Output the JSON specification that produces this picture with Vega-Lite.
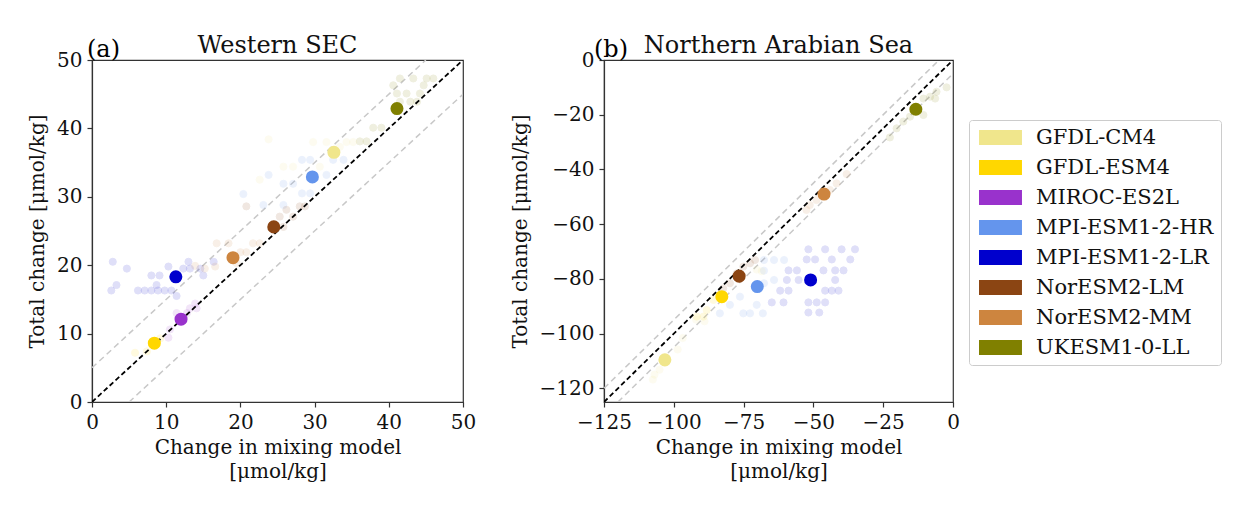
{
  "$schema": "https://vega.github.io/schema/vega-lite/v6.json",
  "padding": {"left": 26, "top": 33, "right": 5, "bottom": 5},
  "spacing": 141,
  "bounds": "flush",
  "background": "white",
  "config": {
    "font": "DejaVu Serif",
    "view": {"stroke": "#333", "strokeWidth": 1.2},
    "axis": {
      "labelFont": "DejaVu Serif", "titleFont": "DejaVu Serif",
      "labelFontSize": 20, "titleFontSize": 20, "titleFontWeight": "normal",
      "labelColor": "#111", "titleColor": "#111",
      "domainColor": "#333", "domainWidth": 1.2,
      "tickColor": "#333", "tickWidth": 1.2, "tickSize": 5, "labelPadding": 5,
      "grid": false, "labelFlush": false, "labelOverlap": false
    },
    "title": {"font": "DejaVu Serif", "fontSize": 24, "fontWeight": "normal", "color": "#111", "offset": -20},
    "legend": {"orient": "none", "legendX": 877, "legendY": 60}
  },
  "datasets": {
    "means": [
      {"panel": "a", "model": "GFDL-CM4", "x": 32.6, "y": 36.5},
      {"panel": "a", "model": "GFDL-ESM4", "x": 8.4, "y": 8.6},
      {"panel": "a", "model": "MIROC-ES2L", "x": 12.0, "y": 12.1},
      {"panel": "a", "model": "MPI-ESM1-2-HR", "x": 29.7, "y": 32.9},
      {"panel": "a", "model": "MPI-ESM1-2-LR", "x": 11.3, "y": 18.3},
      {"panel": "a", "model": "NorESM2-LM", "x": 24.5, "y": 25.6},
      {"panel": "a", "model": "NorESM2-MM", "x": 19.0, "y": 21.1},
      {"panel": "a", "model": "UKESM1-0-LL", "x": 41.1, "y": 42.9},
      {"panel": "b", "model": "GFDL-CM4", "x": -103.2, "y": -109.6},
      {"panel": "b", "model": "GFDL-ESM4", "x": -82.8, "y": -86.5},
      {"panel": "b", "model": "MPI-ESM1-2-HR", "x": -70.1, "y": -82.8},
      {"panel": "b", "model": "MPI-ESM1-2-LR", "x": -51.0, "y": -80.4},
      {"panel": "b", "model": "NorESM2-LM", "x": -76.6, "y": -79.0},
      {"panel": "b", "model": "NorESM2-MM", "x": -46.2, "y": -49.0},
      {"panel": "b", "model": "UKESM1-0-LL", "x": -13.3, "y": -18.0}
    ],
    "members": [
      {"panel": "a", "model": "UKESM1-0-LL", "x": 41.5, "y": 47.3},
      {"panel": "a", "model": "UKESM1-0-LL", "x": 43.3, "y": 47.3},
      {"panel": "a", "model": "UKESM1-0-LL", "x": 45.1, "y": 47.3},
      {"panel": "a", "model": "UKESM1-0-LL", "x": 46.0, "y": 47.3},
      {"panel": "a", "model": "UKESM1-0-LL", "x": 40.6, "y": 46.3},
      {"panel": "a", "model": "UKESM1-0-LL", "x": 44.7, "y": 46.3},
      {"panel": "a", "model": "UKESM1-0-LL", "x": 41.1, "y": 45.1},
      {"panel": "a", "model": "UKESM1-0-LL", "x": 42.4, "y": 45.1},
      {"panel": "a", "model": "UKESM1-0-LL", "x": 44.2, "y": 45.1},
      {"panel": "a", "model": "UKESM1-0-LL", "x": 41.5, "y": 43.9},
      {"panel": "a", "model": "UKESM1-0-LL", "x": 42.9, "y": 43.9},
      {"panel": "a", "model": "UKESM1-0-LL", "x": 43.8, "y": 43.9},
      {"panel": "a", "model": "UKESM1-0-LL", "x": 37.9, "y": 40.1},
      {"panel": "a", "model": "UKESM1-0-LL", "x": 39.0, "y": 40.1},
      {"panel": "a", "model": "UKESM1-0-LL", "x": 37.0, "y": 38.1},
      {"panel": "a", "model": "UKESM1-0-LL", "x": 36.1, "y": 38.1},
      {"panel": "a", "model": "GFDL-CM4", "x": 23.8, "y": 38.4},
      {"panel": "a", "model": "GFDL-CM4", "x": 29.8, "y": 38.0},
      {"panel": "a", "model": "GFDL-CM4", "x": 31.6, "y": 38.0},
      {"panel": "a", "model": "GFDL-CM4", "x": 34.3, "y": 38.0},
      {"panel": "a", "model": "GFDL-CM4", "x": 35.2, "y": 38.0},
      {"panel": "a", "model": "GFDL-CM4", "x": 33.4, "y": 37.3},
      {"panel": "a", "model": "GFDL-CM4", "x": 25.8, "y": 34.4},
      {"panel": "a", "model": "GFDL-CM4", "x": 27.1, "y": 34.4},
      {"panel": "a", "model": "GFDL-CM4", "x": 30.7, "y": 34.4},
      {"panel": "a", "model": "GFDL-CM4", "x": 22.6, "y": 32.5},
      {"panel": "a", "model": "GFDL-ESM4", "x": 5.8, "y": 7.2},
      {"panel": "a", "model": "GFDL-ESM4", "x": 7.4, "y": 7.4},
      {"panel": "a", "model": "GFDL-ESM4", "x": 9.2, "y": 9.3},
      {"panel": "a", "model": "MPI-ESM1-2-HR", "x": 28.3, "y": 35.4},
      {"panel": "a", "model": "MPI-ESM1-2-HR", "x": 29.4, "y": 35.4},
      {"panel": "a", "model": "MPI-ESM1-2-HR", "x": 32.5, "y": 35.4},
      {"panel": "a", "model": "MPI-ESM1-2-HR", "x": 33.9, "y": 35.4},
      {"panel": "a", "model": "MPI-ESM1-2-HR", "x": 31.6, "y": 33.2},
      {"panel": "a", "model": "MPI-ESM1-2-HR", "x": 25.8, "y": 31.9},
      {"panel": "a", "model": "MPI-ESM1-2-HR", "x": 27.1, "y": 31.9},
      {"panel": "a", "model": "MPI-ESM1-2-HR", "x": 28.3, "y": 30.5},
      {"panel": "a", "model": "MPI-ESM1-2-HR", "x": 29.4, "y": 30.5},
      {"panel": "a", "model": "MPI-ESM1-2-HR", "x": 23.8, "y": 33.2},
      {"panel": "a", "model": "MPI-ESM1-2-HR", "x": 20.4, "y": 30.4},
      {"panel": "a", "model": "MPI-ESM1-2-HR", "x": 23.1, "y": 28.8},
      {"panel": "a", "model": "MPI-ESM1-2-HR", "x": 25.8, "y": 28.8},
      {"panel": "a", "model": "MPI-ESM1-2-LR", "x": 2.8, "y": 20.5},
      {"panel": "a", "model": "MPI-ESM1-2-LR", "x": 4.7, "y": 19.5},
      {"panel": "a", "model": "MPI-ESM1-2-LR", "x": 3.3, "y": 17.1},
      {"panel": "a", "model": "MPI-ESM1-2-LR", "x": 2.6, "y": 16.3},
      {"panel": "a", "model": "MPI-ESM1-2-LR", "x": 6.2, "y": 16.3},
      {"panel": "a", "model": "MPI-ESM1-2-LR", "x": 7.1, "y": 16.3},
      {"panel": "a", "model": "MPI-ESM1-2-LR", "x": 8.0, "y": 16.3},
      {"panel": "a", "model": "MPI-ESM1-2-LR", "x": 8.9, "y": 16.3},
      {"panel": "a", "model": "MPI-ESM1-2-LR", "x": 9.8, "y": 16.3},
      {"panel": "a", "model": "MPI-ESM1-2-LR", "x": 10.7, "y": 16.3},
      {"panel": "a", "model": "MPI-ESM1-2-LR", "x": 8.0, "y": 18.5},
      {"panel": "a", "model": "MPI-ESM1-2-LR", "x": 9.1, "y": 18.5},
      {"panel": "a", "model": "MPI-ESM1-2-LR", "x": 10.3, "y": 19.8},
      {"panel": "a", "model": "MPI-ESM1-2-LR", "x": 11.4, "y": 15.5},
      {"panel": "a", "model": "MPI-ESM1-2-LR", "x": 12.3, "y": 19.5},
      {"panel": "a", "model": "MPI-ESM1-2-LR", "x": 13.2, "y": 19.5},
      {"panel": "a", "model": "MPI-ESM1-2-LR", "x": 14.6, "y": 19.5},
      {"panel": "a", "model": "MPI-ESM1-2-LR", "x": 13.0, "y": 20.5},
      {"panel": "a", "model": "MPI-ESM1-2-LR", "x": 15.0, "y": 18.5},
      {"panel": "a", "model": "MPI-ESM1-2-LR", "x": 16.4, "y": 20.5},
      {"panel": "a", "model": "MPI-ESM1-2-LR", "x": 8.7, "y": 17.1},
      {"panel": "a", "model": "NorESM2-MM", "x": 13.9, "y": 19.9},
      {"panel": "a", "model": "NorESM2-MM", "x": 15.2, "y": 19.5},
      {"panel": "a", "model": "NorESM2-MM", "x": 16.6, "y": 19.8},
      {"panel": "a", "model": "NorESM2-MM", "x": 16.8, "y": 23.2},
      {"panel": "a", "model": "NorESM2-MM", "x": 18.4, "y": 23.2},
      {"panel": "a", "model": "NorESM2-MM", "x": 20.0, "y": 21.9},
      {"panel": "a", "model": "NorESM2-MM", "x": 20.8, "y": 21.9},
      {"panel": "a", "model": "NorESM2-MM", "x": 21.7, "y": 23.2},
      {"panel": "a", "model": "NorESM2-MM", "x": 22.6, "y": 23.2},
      {"panel": "a", "model": "NorESM2-MM", "x": 19.5, "y": 20.3},
      {"panel": "a", "model": "NorESM2-LM", "x": 25.3, "y": 27.1},
      {"panel": "a", "model": "NorESM2-LM", "x": 27.1, "y": 27.1},
      {"panel": "a", "model": "NorESM2-LM", "x": 28.0, "y": 28.6},
      {"panel": "a", "model": "NorESM2-LM", "x": 28.7, "y": 28.6},
      {"panel": "a", "model": "NorESM2-LM", "x": 26.2, "y": 28.1},
      {"panel": "a", "model": "NorESM2-LM", "x": 25.8, "y": 25.6},
      {"panel": "a", "model": "NorESM2-LM", "x": 20.8, "y": 28.6},
      {"panel": "a", "model": "MIROC-ES2L", "x": 13.9, "y": 14.4},
      {"panel": "a", "model": "MIROC-ES2L", "x": 13.2, "y": 13.7},
      {"panel": "a", "model": "MIROC-ES2L", "x": 12.8, "y": 13.0},
      {"panel": "a", "model": "MIROC-ES2L", "x": 14.1, "y": 13.7},
      {"panel": "a", "model": "MIROC-ES2L", "x": 10.5, "y": 10.6},
      {"panel": "a", "model": "MIROC-ES2L", "x": 10.3, "y": 9.4},
      {"panel": "a", "model": "MIROC-ES2L", "x": 11.4, "y": 13.0},
      {"panel": "b", "model": "UKESM1-0-LL", "x": -2.3, "y": -10.0},
      {"panel": "b", "model": "UKESM1-0-LL", "x": -5.9, "y": -11.6},
      {"panel": "b", "model": "UKESM1-0-LL", "x": -8.2, "y": -13.4},
      {"panel": "b", "model": "UKESM1-0-LL", "x": -10.6, "y": -14.1},
      {"panel": "b", "model": "UKESM1-0-LL", "x": -6.4, "y": -14.1},
      {"panel": "b", "model": "UKESM1-0-LL", "x": -15.4, "y": -20.7},
      {"panel": "b", "model": "UKESM1-0-LL", "x": -17.8, "y": -22.5},
      {"panel": "b", "model": "UKESM1-0-LL", "x": -20.2, "y": -25.0},
      {"panel": "b", "model": "UKESM1-0-LL", "x": -22.6, "y": -28.3},
      {"panel": "b", "model": "UKESM1-0-LL", "x": -10.6, "y": -20.1},
      {"panel": "b", "model": "NorESM2-MM", "x": -38.1, "y": -41.7},
      {"panel": "b", "model": "NorESM2-MM", "x": -41.7, "y": -45.1},
      {"panel": "b", "model": "NorESM2-MM", "x": -44.1, "y": -47.5},
      {"panel": "b", "model": "NorESM2-MM", "x": -48.9, "y": -51.2},
      {"panel": "b", "model": "NorESM2-MM", "x": -51.3, "y": -53.0},
      {"panel": "b", "model": "NorESM2-MM", "x": -52.5, "y": -54.8},
      {"panel": "b", "model": "NorESM2-LM", "x": -70.9, "y": -73.1},
      {"panel": "b", "model": "NorESM2-LM", "x": -72.7, "y": -74.3},
      {"panel": "b", "model": "NorESM2-LM", "x": -75.1, "y": -75.5},
      {"panel": "b", "model": "NorESM2-LM", "x": -77.5, "y": -78.0},
      {"panel": "b", "model": "NorESM2-LM", "x": -79.9, "y": -81.6},
      {"panel": "b", "model": "NorESM2-LM", "x": -82.3, "y": -83.5},
      {"panel": "b", "model": "MPI-ESM1-2-HR", "x": -67.7, "y": -73.1},
      {"panel": "b", "model": "MPI-ESM1-2-HR", "x": -64.1, "y": -73.1},
      {"panel": "b", "model": "MPI-ESM1-2-HR", "x": -60.5, "y": -73.1},
      {"panel": "b", "model": "MPI-ESM1-2-HR", "x": -67.7, "y": -77.0},
      {"panel": "b", "model": "MPI-ESM1-2-HR", "x": -64.1, "y": -80.4},
      {"panel": "b", "model": "MPI-ESM1-2-HR", "x": -76.3, "y": -86.5},
      {"panel": "b", "model": "MPI-ESM1-2-HR", "x": -79.9, "y": -89.5},
      {"panel": "b", "model": "MPI-ESM1-2-HR", "x": -83.5, "y": -92.6},
      {"panel": "b", "model": "MPI-ESM1-2-HR", "x": -75.1, "y": -92.6},
      {"panel": "b", "model": "MPI-ESM1-2-HR", "x": -70.3, "y": -89.5},
      {"panel": "b", "model": "MPI-ESM1-2-HR", "x": -68.1, "y": -92.6},
      {"panel": "b", "model": "MPI-ESM1-2-HR", "x": -72.7, "y": -92.6},
      {"panel": "b", "model": "MPI-ESM1-2-HR", "x": -67.7, "y": -81.6},
      {"panel": "b", "model": "MPI-ESM1-2-LR", "x": -51.8, "y": -69.2},
      {"panel": "b", "model": "MPI-ESM1-2-LR", "x": -45.8, "y": -69.2},
      {"panel": "b", "model": "MPI-ESM1-2-LR", "x": -39.9, "y": -69.2},
      {"panel": "b", "model": "MPI-ESM1-2-LR", "x": -35.1, "y": -69.2},
      {"panel": "b", "model": "MPI-ESM1-2-LR", "x": -52.4, "y": -72.9},
      {"panel": "b", "model": "MPI-ESM1-2-LR", "x": -49.4, "y": -72.9},
      {"panel": "b", "model": "MPI-ESM1-2-LR", "x": -43.4, "y": -72.9},
      {"panel": "b", "model": "MPI-ESM1-2-LR", "x": -36.8, "y": -72.9},
      {"panel": "b", "model": "MPI-ESM1-2-LR", "x": -58.9, "y": -76.9},
      {"panel": "b", "model": "MPI-ESM1-2-LR", "x": -55.9, "y": -76.9},
      {"panel": "b", "model": "MPI-ESM1-2-LR", "x": -46.4, "y": -76.9},
      {"panel": "b", "model": "MPI-ESM1-2-LR", "x": -42.2, "y": -76.9},
      {"panel": "b", "model": "MPI-ESM1-2-LR", "x": -39.2, "y": -76.9},
      {"panel": "b", "model": "MPI-ESM1-2-LR", "x": -59.5, "y": -80.4},
      {"panel": "b", "model": "MPI-ESM1-2-LR", "x": -55.3, "y": -80.4},
      {"panel": "b", "model": "MPI-ESM1-2-LR", "x": -42.2, "y": -80.4},
      {"panel": "b", "model": "MPI-ESM1-2-LR", "x": -61.9, "y": -84.3},
      {"panel": "b", "model": "MPI-ESM1-2-LR", "x": -58.9, "y": -84.3},
      {"panel": "b", "model": "MPI-ESM1-2-LR", "x": -45.8, "y": -84.3},
      {"panel": "b", "model": "MPI-ESM1-2-LR", "x": -43.4, "y": -84.3},
      {"panel": "b", "model": "MPI-ESM1-2-LR", "x": -41.0, "y": -84.3},
      {"panel": "b", "model": "MPI-ESM1-2-LR", "x": -60.7, "y": -88.6},
      {"panel": "b", "model": "MPI-ESM1-2-LR", "x": -51.8, "y": -88.6},
      {"panel": "b", "model": "MPI-ESM1-2-LR", "x": -48.8, "y": -88.6},
      {"panel": "b", "model": "MPI-ESM1-2-LR", "x": -45.8, "y": -88.6},
      {"panel": "b", "model": "MPI-ESM1-2-LR", "x": -51.8, "y": -92.3},
      {"panel": "b", "model": "MPI-ESM1-2-LR", "x": -47.9, "y": -92.3},
      {"panel": "b", "model": "MPI-ESM1-2-LR", "x": -64.9, "y": -88.6},
      {"panel": "b", "model": "GFDL-ESM4", "x": -85.8, "y": -87.7},
      {"panel": "b", "model": "GFDL-ESM4", "x": -88.2, "y": -91.4},
      {"panel": "b", "model": "GFDL-ESM4", "x": -91.8, "y": -93.8},
      {"panel": "b", "model": "GFDL-ESM4", "x": -89.4, "y": -93.8},
      {"panel": "b", "model": "GFDL-CM4", "x": -92.0, "y": -94.9},
      {"panel": "b", "model": "GFDL-CM4", "x": -89.0, "y": -95.5},
      {"panel": "b", "model": "GFDL-CM4", "x": -96.8, "y": -101.6},
      {"panel": "b", "model": "GFDL-CM4", "x": -98.6, "y": -105.8},
      {"panel": "b", "model": "GFDL-CM4", "x": -105.1, "y": -113.2},
      {"panel": "b", "model": "GFDL-CM4", "x": -107.5, "y": -116.8},
      {"panel": "b", "model": "GFDL-CM4", "x": -106.9, "y": -115.0},
      {"panel": "b", "model": "GFDL-CM4", "x": -70.3, "y": -76.6},
      {"panel": "b", "model": "GFDL-CM4", "x": -68.5, "y": -77.2}
    ],
    "lines": [
      {"panel": "a", "line": "one", "style": "black", "x": 0, "y": 0},
      {"panel": "a", "line": "one", "style": "black", "x": 50, "y": 50},
      {"panel": "a", "line": "up", "style": "gray", "x": 0, "y": 5},
      {"panel": "a", "line": "up", "style": "gray", "x": 45, "y": 50},
      {"panel": "a", "line": "down", "style": "gray", "x": 5, "y": 0},
      {"panel": "a", "line": "down", "style": "gray", "x": 50, "y": 45},
      {"panel": "b", "line": "one", "style": "black", "x": -125, "y": -125},
      {"panel": "b", "line": "one", "style": "black", "x": 0, "y": 0},
      {"panel": "b", "line": "up", "style": "gray", "x": -125, "y": -120},
      {"panel": "b", "line": "up", "style": "gray", "x": -5, "y": 0},
      {"panel": "b", "line": "down", "style": "gray", "x": -120, "y": -125},
      {"panel": "b", "line": "down", "style": "gray", "x": 0, "y": -5}
    ]
  },
  "hconcat": [
    {
      "width": 371, "height": 342,
      "title": {"text": "Western SEC"},
      "layer": [
        {"data": {"name": "lines"}, "transform": [{"filter": "datum.panel === 'a' && datum.style === 'gray'"}],
         "mark": {"type": "line", "color": "#c8c8c8", "strokeWidth": 1.5, "strokeDash": [6, 4], "clip": true},
         "encoding": {
           "x": {"field": "x", "type": "quantitative", "scale": {"domain": [0, 50], "nice": false, "zero": false},
                 "axis": {"values": [0, 10, 20, 30, 40, 50], "title": ["Change in mixing model", "[μmol/kg]"], "titlePadding": 5, "titleLineHeight": 24}},
           "y": {"field": "y", "type": "quantitative", "scale": {"domain": [0, 50], "nice": false, "zero": false},
                 "axis": {"values": [0, 10, 20, 30, 40, 50], "title": "Total change [μmol/kg]", "titlePadding": 9}},
           "detail": {"field": "line"}}},
        {"data": {"name": "members"}, "transform": [{"filter": "datum.panel === 'a'"}],
         "mark": {"type": "circle", "size": 50, "opacity": 0.12, "strokeWidth": 1},
         "encoding": {
           "x": {"field": "x", "type": "quantitative"},
           "y": {"field": "y", "type": "quantitative"},
           "stroke": {"field": "model", "type": "nominal", "legend": null,
            "scale": {"domain": ["GFDL-CM4", "GFDL-ESM4", "MIROC-ES2L", "MPI-ESM1-2-HR", "MPI-ESM1-2-LR", "NorESM2-LM", "NorESM2-MM", "UKESM1-0-LL"],
                      "range": ["#F0E68C", "#FFD700", "#9932CC", "#6495ED", "#0000CD", "#8B4513", "#CD853F", "#808000"]}},
           "color": {"field": "model", "type": "nominal", "title": null,
            "scale": {"domain": ["GFDL-CM4", "GFDL-ESM4", "MIROC-ES2L", "MPI-ESM1-2-HR", "MPI-ESM1-2-LR", "NorESM2-LM", "NorESM2-MM", "UKESM1-0-LL"],
                      "range": ["#F0E68C", "#FFD700", "#9932CC", "#6495ED", "#0000CD", "#8B4513", "#CD853F", "#808000"]},
            "legend": {"symbolType": "M-1,-1H4.73V1H-1Z", "symbolSize": 225, "symbolOpacity": 1, "symbolStrokeWidth": 0,
                       "labelFont": "DejaVu Serif", "labelFontSize": 21, "labelColor": "#111", "labelOffset": 39, "labelLimit": 400, "rowPadding": 8,
                       "padding": 7, "strokeColor": "#cccccc", "fillColor": "white", "cornerRadius": 3}}}},
        {"data": {"name": "lines"}, "transform": [{"filter": "datum.panel === 'a' && datum.style === 'black'"}],
         "mark": {"type": "line", "color": "black", "strokeWidth": 1.8, "strokeDash": [5, 3], "clip": true},
         "encoding": {"x": {"field": "x", "type": "quantitative"}, "y": {"field": "y", "type": "quantitative"}, "detail": {"field": "line"}}},
        {"data": {"name": "means"}, "transform": [{"filter": "datum.panel === 'a'"}],
         "mark": {"type": "circle", "size": 170, "opacity": 1},
         "encoding": {"x": {"field": "x", "type": "quantitative"}, "y": {"field": "y", "type": "quantitative"},
                      "color": {"field": "model", "type": "nominal", "title": null}}},
        {"data": {"values": [{"label": "(a)"}]},
         "mark": {"type": "text", "align": "left", "baseline": "alphabetic", "fontSize": 24, "dx": -5, "dy": -3},
         "encoding": {"x": {"datum": 0}, "y": {"datum": 50}, "text": {"field": "label"}}}
      ]
    },
    {
      "width": 349, "height": 342,
      "title": {"text": "Northern Arabian Sea"},
      "layer": [
        {"data": {"name": "lines"}, "transform": [{"filter": "datum.panel === 'b' && datum.style === 'gray'"}],
         "mark": {"type": "line", "color": "#c8c8c8", "strokeWidth": 1.5, "strokeDash": [6, 4], "clip": true},
         "encoding": {
           "x": {"field": "x", "type": "quantitative", "scale": {"domain": [-125, 0], "nice": false, "zero": false},
                 "axis": {"values": [-125, -100, -75, -50, -25, 0], "title": ["Change in mixing model", "[μmol/kg]"], "titlePadding": 5, "titleLineHeight": 24}},
           "y": {"field": "y", "type": "quantitative", "scale": {"domain": [-125, 0], "nice": false, "zero": false},
                 "axis": {"values": [-120, -100, -80, -60, -40, -20, 0], "title": "Total change [μmol/kg]", "titlePadding": 9}},
           "detail": {"field": "line"}}},
        {"data": {"name": "members"}, "transform": [{"filter": "datum.panel === 'b'"}],
         "mark": {"type": "circle", "size": 50, "opacity": 0.12, "strokeWidth": 1},
         "encoding": {"x": {"field": "x", "type": "quantitative"}, "y": {"field": "y", "type": "quantitative"},
                      "stroke": {"field": "model", "type": "nominal", "legend": null},
                      "color": {"field": "model", "type": "nominal", "title": null}}},
        {"data": {"name": "lines"}, "transform": [{"filter": "datum.panel === 'b' && datum.style === 'black'"}],
         "mark": {"type": "line", "color": "black", "strokeWidth": 1.8, "strokeDash": [5, 3], "clip": true},
         "encoding": {"x": {"field": "x", "type": "quantitative"}, "y": {"field": "y", "type": "quantitative"}, "detail": {"field": "line"}}},
        {"data": {"name": "means"}, "transform": [{"filter": "datum.panel === 'b'"}],
         "mark": {"type": "circle", "size": 170, "opacity": 1},
         "encoding": {"x": {"field": "x", "type": "quantitative"}, "y": {"field": "y", "type": "quantitative"},
                      "color": {"field": "model", "type": "nominal", "title": null}}},
        {"data": {"values": [{"label": "(b)"}]},
         "mark": {"type": "text", "align": "left", "baseline": "alphabetic", "fontSize": 24, "dx": -10, "dy": -3},
         "encoding": {"x": {"datum": -125}, "y": {"datum": 0}, "text": {"field": "label"}}}
      ]
    }
  ]
}
